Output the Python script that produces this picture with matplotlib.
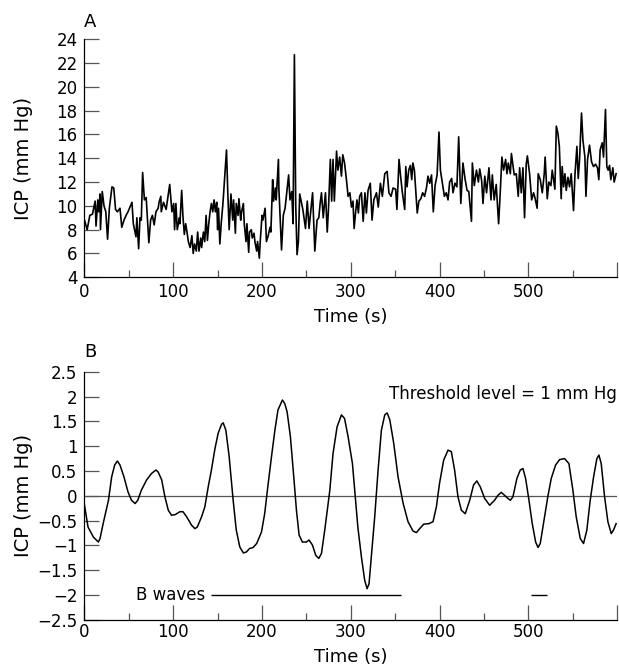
import numpy as np
import matplotlib
matplotlib.use('Agg')
import matplotlib.pyplot as plt
from matplotlib.ticker import MultipleLocator

plt.rcParams['font.family'] = ['DejaVu Sans']

# Panel A: raw ICP trace (time in s, ICP in mm Hg)
t_a = [0, 3, 6, 9, 12, 13, 15, 16, 17.5, 18, 20, 22, 24, 26, 28, 31, 33, 35, 37, 40,
       42, 44.5, 47.5, 49, 53.5, 55, 58, 59, 61, 62.5, 64, 65.5, 67.5, 69.5, 72.5, 74.5,
       76.5, 78.5, 80.5, 83, 84, 86, 86.5, 89, 92, 96, 98.5, 100.5, 101.5, 103, 104.5,
       107, 107.5, 109.5, 111, 112.5, 114, 115.5, 117, 119, 121, 122.5, 124, 126, 127.5,
       129, 131, 132, 134, 135.5, 137, 138.5, 140, 141.5, 143, 144.5, 146, 147.5, 149,
       150, 151, 152.5, 154, 156, 160, 161.5, 163, 165, 167, 168, 170, 171, 173, 174,
       176, 177, 179, 180, 182, 183, 185, 186, 188, 189, 191, 192, 194, 195, 197, 198,
       200, 201, 203.5, 205, 207, 209, 210, 212, 213, 215, 216, 218.5, 219, 221, 222,
       224, 226, 230, 231.5, 233.5, 235, 236.5, 238, 239.5, 241, 242.5,
       246, 249, 251, 253, 257, 259.5, 262, 264, 265.5, 267, 269, 271.5, 273.5, 275,
       277, 278.5, 280, 281.5, 284, 285.5, 287.5, 289.5, 291, 293, 295, 297, 299, 300.8,
       302.5, 303.8, 305.5, 307, 308.6, 310, 312, 314, 316, 317.6, 319.5, 322, 324, 326,
       329, 331, 333.4, 335.6, 338.3, 341, 343, 345.4, 347.7, 350.6, 352, 354.4, 355.9,
       358, 360.8, 362, 363.4, 365.3, 367.2, 368.7, 370, 371.7, 374, 374.9, 376.8, 379,
       381, 383.2, 385.5, 387, 389, 391, 393, 395, 397.3, 399.4, 401, 403.2, 405.5,
       407.6, 409.6, 411.4, 413.7, 415.2, 417.4, 419.6, 421.6, 422.7, 424, 426.4, 428.7,
       431, 433, 436, 437, 439.2, 441.6, 443.8, 445.3, 447.5, 449, 451, 453, 455.7, 458,
       459.5, 461.6, 463.9, 466.6, 468.4, 470.3, 472.2, 474.5, 476, 477.5, 479.8, 481,
       484.2, 486.5, 488.7, 490.3, 492.1, 494, 495.8, 497.7, 499, 501.5, 503.8, 506,
       507.5, 510, 511.2, 513.5, 515.8, 518, 519, 521.4, 523.2, 525.5, 527, 530, 531.6,
       533.4, 535, 537.1, 538.2, 539.8, 541.3, 542.8, 544.7, 546.5, 548.4, 551, 552.6,
       554.8, 556.3, 557.8, 560, 561.6, 563.8, 565, 566.8, 569, 571.3, 573.5, 575.8, 578,
       579.5, 581, 583.3, 584.8, 587, 588.5, 590, 591.6, 593, 595.3, 596.8, 599]
icp_a = [8.8, 8.0, 9.2, 9.3, 10.4, 8.3, 10.5, 9.5, 11.0, 8.0, 11.2, 10.0, 9.5, 7.2, 9.8,
         11.6, 11.5, 9.7, 9.5, 9.8, 8.2, 8.8, 9.3, 9.5, 10.3, 8.5, 7.4, 9.0, 6.4, 9.0, 8.8,
         12.8, 10.5, 10.7, 6.9, 8.8, 9.2, 8.4, 9.5, 9.8, 10.3, 10.8, 9.5, 10.3, 9.7, 11.8,
         9.5, 10.2, 8.0, 10.2, 8.0, 9.0, 8.5, 11.3, 9.0, 7.6, 8.5, 7.8, 7.0, 6.5, 7.5, 6.0,
         6.8, 6.2, 7.8, 6.2, 7.3, 6.5, 7.8, 7.0, 9.2, 7.1, 8.5, 9.5, 10.2, 9.5, 10.5, 9.5,
         10.3, 8.0, 9.8, 6.8, 8.5, 10.2, 14.7, 11.0, 8.0, 11.0, 8.8, 10.5, 7.7, 10.2, 9.2,
         10.6, 8.8, 9.5, 10.2, 8.5, 7.0, 8.5, 6.1, 7.8, 8.0, 7.3, 7.7, 7.0, 6.2, 7.0, 5.6,
         7.0, 9.2, 8.8, 9.8, 7.0, 7.5, 8.2, 7.8, 12.2, 10.4, 11.5, 10.5, 13.9, 11.5, 8.0,
         6.3, 9.2, 9.8, 12.6, 10.5, 11.2, 8.5, 22.7, 10.0, 5.9, 7.0, 11.0,
         9.7, 8.1, 10.4, 8.1, 11.1, 6.2, 8.8, 9.0, 10.2, 11.1, 9.0, 11.1, 7.8, 9.9,
         13.9, 10.4, 13.9, 10.4, 14.6, 13.0, 14.1, 12.5, 14.3, 13.6, 12.3, 10.8, 11.1, 9.9,
         10.4, 8.1, 9.5, 10.5, 9.4, 10.8, 11.1, 8.7, 11.1, 9.4, 11.3, 11.9, 8.8, 10.5,
         11.1, 9.9, 11.9, 10.8, 12.7, 12.9, 11.1, 10.8, 11.5, 11.4, 9.7, 13.9, 12.7,
         11.2, 9.7, 13.3, 11.6, 13.0, 13.4, 12.2, 13.6, 13.0, 10.5, 9.4, 10.4, 10.6,
         11.1, 10.8, 11.6, 12.5, 11.9, 12.6, 9.5, 11.7, 12.6, 16.2, 13.0, 11.9, 10.8,
         11.1, 10.5, 12.0, 12.3, 11.1, 11.9, 11.6, 15.8, 13.3, 10.2, 13.6, 12.3,
         11.3, 11.2, 8.7, 13.6, 11.7, 13.0, 12.0, 13.1, 12.1, 10.2, 12.5, 11.1, 13.2, 10.5,
         12.6, 10.5, 11.8, 8.5, 11.1, 14.1, 13.0, 13.9, 12.7, 13.6, 12.7, 14.4,
         12.6, 12.7, 10.8, 13.2, 11.1, 13.2, 9.0, 13.5, 14.2, 12.7, 10.5, 11.1,
         10.7, 9.8, 12.7, 12.2, 11.1, 12.7, 14.1, 10.6, 12.0, 11.7, 13.0, 11.4, 16.7,
         16.1, 15.0, 10.6, 13.3, 11.6, 12.7, 11.3, 12.4, 11.6, 12.7, 9.6, 12.6,
         15.0, 12.3, 13.9, 17.8, 15.5, 14.1, 10.8, 13.9, 15.1, 13.7, 13.3, 13.5, 13.2,
         12.2, 14.7, 15.3, 14.1, 18.1, 13.3, 13.0, 13.4, 12.2, 13.2, 12.0, 12.7]

# Panel B: band-pass filtered ICP
t_b = [0, 4, 10, 15.6, 17.5, 21, 27, 30.6, 34, 37, 40, 44.5, 49, 53, 57, 60, 64, 70,
       75.5, 80.5, 83, 87, 90.6, 94.4, 98, 102, 107.5, 111, 115, 120.6, 124.4, 127, 132,
       135.6, 139.4, 143, 147, 150.6, 154.4, 156.3, 159.3, 163, 167.5, 171, 175, 179,
       182.5, 186, 190, 194, 199.4, 203, 207, 210.7, 214.5, 218, 223, 225.6, 228.3, 232,
       235.8, 238.8, 241.8, 245.5, 250, 253, 256.8, 260.6, 264, 267, 270.7, 276.4, 280,
       284.6, 289.5, 293, 297, 301.9, 304.5, 308, 312, 315.7, 318.4, 320.6, 323.2, 327,
       330.8, 334.5, 338.3, 341, 344, 348.4, 353.3, 359, 364.5, 370.2, 374, 377.7, 382.2,
       388.2, 392.7, 396.5, 400, 404.7, 409.6, 413.3, 417, 420.8, 424.6, 429, 434, 438.4,
       442, 446, 450.8, 456.5, 462, 465.8, 469.6, 473.3, 477, 479.8, 482.7, 487.2, 491,
       494, 497, 500.8, 504.5, 508.3, 511, 513.5, 518.4, 522, 525.9, 530.8, 535.3, 540.9,
       545.8, 550.3, 554, 558.6, 562.3, 566, 569.8, 573.6, 577.3, 579.6, 582.2, 586,
       589.7, 593.5, 596, 599]
icp_b = [-0.19, -0.63, -0.83, -0.93, -0.86, -0.56, -0.09, 0.38, 0.62, 0.70, 0.62, 0.38,
         0.08, -0.09, -0.155, -0.09, 0.11, 0.32, 0.45, 0.52, 0.48, 0.32, -0.02, -0.29,
         -0.39, -0.38, -0.32, -0.32, -0.42, -0.59, -0.66, -0.63, -0.42, -0.22, 0.18, 0.52,
         0.95, 1.26, 1.44, 1.47, 1.32, 0.79, -0.09, -0.69, -1.03, -1.15, -1.13, -1.06,
         -1.04, -0.96, -0.73, -0.36, 0.25, 0.79, 1.32, 1.73, 1.93, 1.86, 1.69, 1.19, 0.38,
         -0.29, -0.79, -0.93, -0.93, -0.89, -0.99, -1.2, -1.26, -1.16, -0.69, 0.11, 0.85,
         1.39, 1.63, 1.56, 1.19, 0.65, 0.11, -0.63, -1.23, -1.70, -1.87, -1.77, -1.23,
         -0.42, 0.52, 1.32, 1.63, 1.67, 1.53, 1.06, 0.38, -0.15, -0.52, -0.71, -0.74, -0.66,
         -0.57, -0.56, -0.52, -0.22, 0.25, 0.72, 0.92, 0.89, 0.52, -0.02, -0.29, -0.36,
         -0.09, 0.22, 0.30, 0.18, -0.05, -0.19, -0.09, 0.01, 0.07, 0.01, -0.05, -0.09,
         -0.02, 0.35, 0.52, 0.55, 0.35, -0.09, -0.56, -0.93, -1.04, -0.96, -0.42, -0.02,
         0.35, 0.62, 0.73, 0.75, 0.65, 0.11, -0.42, -0.86, -0.96, -0.69, -0.09, 0.38, 0.75,
         0.82, 0.65, -0.02, -0.52, -0.76, -0.69, -0.56]

# B wave periods (start, end) in s
bwave_start = [143, 503]
bwave_end = [357, 521]
threshold = 1

yticks_a = [4, 6, 8, 10, 12, 14, 16, 18, 20, 22, 24]
yticks_b = [-2.5, -2, -1.5, -1, -0.5, 0, 0.5, 1, 1.5, 2, 2.5]
yticklabels_b = ['\u22122.5', '\u22122', '\u22121.5', '\u22121', '\u22120.5', '0',
                 '0.5', '1', '1.5', '2', '2.5']
xticks = [0, 100, 200, 300, 400, 500, 600]
xticklabels = ['0', '100', '200', '300', '400', '500', '']

fs = 12
fig = plt.figure(figsize=(6.19, 6.72), dpi=100)
ax1 = fig.add_axes([0.1365, 0.5874, 0.8603, 0.3542])
ax2 = fig.add_axes([0.1365, 0.0774, 0.8603, 0.3695])

for ax, xpad in ((ax1, 4), (ax2, 2.5)):
    ax.spines['top'].set_visible(False)
    ax.spines['right'].set_visible(False)
    for s in ('left', 'bottom'):
        ax.spines[s].set_linewidth(0.9)
    ax.set_xlim(0, 600)
    ax.set_xticks(xticks)
    ax.set_xticklabels(xticklabels)
    ax.xaxis.set_minor_locator(MultipleLocator(50))
    ax.tick_params(axis='x', which='major', direction='in', length=10.5, width=0.9,
                   color='#555555', labelsize=fs, pad=xpad)
    ax.tick_params(axis='x', which='minor', direction='in', length=5, width=0.9,
                   color='#555555')
    ax.tick_params(axis='y', which='major', direction='in', length=10.5, width=0.9,
                   color='#555555', labelsize=fs, pad=5)
    ax.set_xlabel('Time (s)', fontsize=fs + 1, labelpad=5)
    ax.set_ylabel('ICP (mm Hg)', fontsize=fs + 2)
    ax.yaxis.set_label_coords(-0.097, 0.5)

# A
ax1.plot(t_a, icp_a, color='black', lw=1.2)
ax1.set_ylim(4, 24)
ax1.set_yticks(yticks_a)
fig.text(0.136, 1 - 22 / 672, 'A', fontsize=fs + 1, ha='left', va='center')

# B
ax2.axhline(0, color='#555555', lw=0.9)
ax2.plot(t_b, icp_b, color='black', lw=1.1)
ax2.set_ylim(-2.5, 2.5)
ax2.set_yticks(yticks_b)
ax2.set_yticklabels(yticklabels_b)
ax2.hlines([-2] * len(bwave_start), bwave_start, bwave_end, color='black', lw=1)
ax2.text(136, -2, 'B waves', fontsize=fs, ha='right', va='center')
ax2.text(600, 2.05, 'Threshold level = %d mm Hg' % threshold, fontsize=fs,
         ha='right', va='center')
fig.text(0.136, 1 - 352 / 672, 'B', fontsize=fs + 1, ha='left', va='center')

fig.savefig('out.png', dpi=100)
